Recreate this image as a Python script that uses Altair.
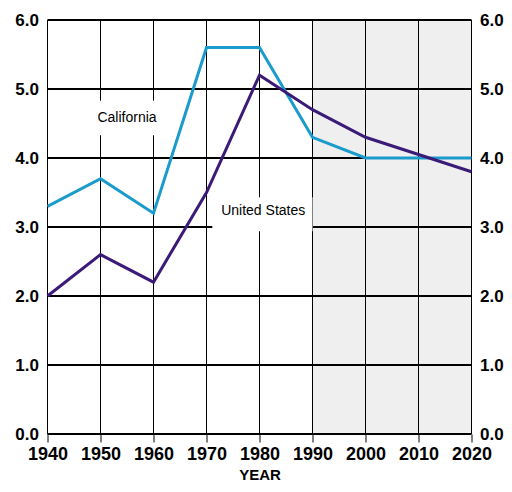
import altair as alt
import pandas as pd

# ---- data ----
years = [1940, 1950, 1960, 1970, 1980, 1990, 2000, 2010, 2020]
california = [3.3, 3.7, 3.2, 5.6, 5.6, 4.3, 4.0, 4.0, 4.0]
united_states = [2.0, 2.6, 2.2, 3.5, 5.2, 4.7, 4.3, 4.05, 3.8]
y_ticks = [0, 1, 2, 3, 4, 5, 6]
shade_start = [1990]
shade_end = [2020]
label_text = ["California", "United States"]
label_x = [1955.0, 1980.7]
label_y = [4.58, 3.23]
box_x = [1948.6, 1971.1]
box_x2 = [1961.6, 1990.0]
box_y = [4.33, 2.94]
box_y2 = [4.83, 3.43]

FONT = "Liberation Sans"
CAL_COLOR = "#1a9bcb"
US_COLOR = "#3b1a78"

lines_df = pd.DataFrame({
    "year": years * 2,
    "value": california + united_states,
    "series": ["California"] * len(years) + ["United States"] * len(years),
})
vgrid_df = pd.DataFrame({"year": years, "lo": [0] * len(years), "hi": [6] * len(years)})
hgrid_df = pd.DataFrame({"year": [years[0]] * len(y_ticks), "x1": [years[-1]] * len(y_ticks), "v": y_ticks})
shade_df = pd.DataFrame({"year": shade_start, "x2": shade_end, "y": [0], "y2": [6]})
label_df = pd.DataFrame({"text": label_text, "year": label_x, "y": label_y})
box_df = pd.DataFrame({"year": box_x, "x2": box_x2, "y": box_y, "y2": box_y2})

xscale = alt.Scale(domain=[1940, 2020], nice=False, zero=False)
yscale = alt.Scale(domain=[0, 6], nice=False)

xaxis = alt.Axis(values=years, format="d", title="YEAR", grid=False, domain=False,
                 ticks=True, tickSize=8, tickColor="black", tickWidth=1,
                 labelOverlap=False, labelFlush=False,
                 labelFont=FONT, labelFontSize=18, labelFontWeight="bold", labelColor="black",
                 labelPadding=3, titleFont=FONT, titleFontSize=15, titleFontWeight="bold",
                 titleColor="black", titlePadding=4)
X = alt.X("year:Q", scale=xscale, axis=xaxis)


def yaxis(orient, pad):
    return alt.Axis(orient=orient, values=y_ticks, format=".1f", title=None, grid=False,
                    domain=False, ticks=False, labelOverlap=False, labelFlush=False,
                    labelFont=FONT, labelFontSize=17,
                    labelFontWeight="bold", labelColor="black", labelPadding=pad)


shade = alt.Chart(shade_df).mark_rect(color="#efefef").encode(
    x=X, x2="x2:Q",
    y=alt.Y("y:Q", scale=yscale, axis=None), y2="y2:Q")

vgrid = alt.Chart(vgrid_df).mark_rule(color="black", strokeWidth=1).encode(
    x=X,
    y=alt.Y("lo:Q", scale=yscale, axis=None), y2="hi:Q")

hgrid = alt.Chart(hgrid_df).mark_rule(color="black", strokeWidth=2).encode(
    x=X, x2="x1:Q",
    y=alt.Y("v:Q", scale=yscale, axis=yaxis("right", 8)))

boxes = alt.Chart(box_df).mark_rect(color="white").encode(
    x=X, x2="x2:Q",
    y=alt.Y("y:Q", scale=yscale, axis=None), y2="y2:Q")

lines = alt.Chart(lines_df).mark_line(strokeWidth=3).encode(
    x=X,
    y=alt.Y("value:Q", scale=yscale, axis=yaxis("left", 9)),
    color=alt.Color("series:N", scale=alt.Scale(domain=["California", "United States"],
                                                range=[CAL_COLOR, US_COLOR]), legend=None))

labels = alt.Chart(label_df).mark_text(font=FONT, fontSize=14, color="black",
                                       align="center", baseline="middle").encode(
    x=X,
    y=alt.Y("y:Q", scale=yscale, axis=None),
    text="text:N")

chart = alt.layer(shade, vgrid, hgrid, boxes, lines, labels).resolve_scale(
    y="independent").properties(
    width=424, height=414,
    autosize=alt.AutoSizeParams(type="none"),
    padding={"left": 39.5, "top": 12, "right": 32.5, "bottom": 50},
).configure_view(stroke=None)

chart.save("out.html", embed_options={"renderer": "svg", "actions": False})
